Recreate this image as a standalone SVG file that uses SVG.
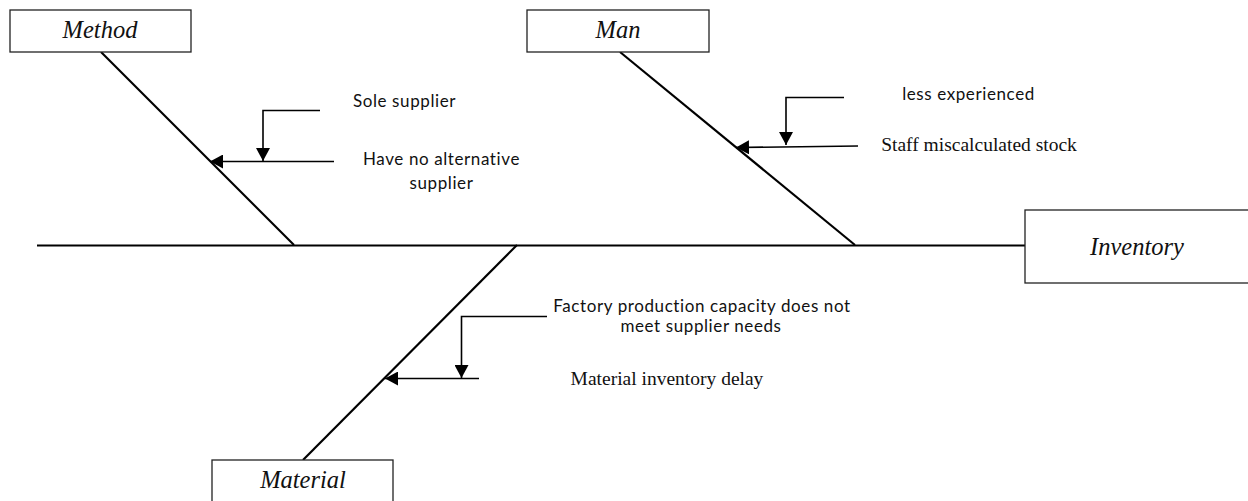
<svg xmlns="http://www.w3.org/2000/svg" width="1248" height="501" viewBox="0 0 1248 501">
  <style>
    .box { fill: #fff; stroke: #222; stroke-width: 1.3; }
    .cat { font-family: "Liberation Serif", "Times New Roman", serif; font-style: italic; font-size: 24.5px; fill: #111; text-anchor: middle; }
    .bone { stroke: #000; stroke-width: 2.2; fill: none; }
    .lead { stroke: #000; stroke-width: 1.6; fill: none; }
    .sans { font-family: Lato, "Open Sans", "Liberation Sans", sans-serif; font-size: 17px; letter-spacing: 0.6px; fill: #111; text-anchor: middle; }
    .serif { font-family: "Liberation Serif", "Times New Roman", serif; font-size: 19.5px; fill: #111; text-anchor: middle; }
  </style>
  <defs>
    <marker id="head" markerUnits="userSpaceOnUse" markerWidth="14" markerHeight="14" refX="13" refY="7" orient="auto">
      <path d="M0,0 L13,7 L0,14 Z" fill="#000"/>
    </marker>
  </defs>

  <rect width="1248" height="501" fill="#fff"/>

  <!-- spine and bones -->
  <g id="connectors">
    <line class="bone" x1="37" y1="245.5" x2="1025" y2="245.5"/>
    <line class="bone" x1="101" y1="52" x2="294" y2="245"/>
    <line class="bone" x1="620" y1="52" x2="855" y2="245"/>
    <line class="bone" x1="517" y1="245" x2="303" y2="460"/>

    <!-- Method causes -->
    <polyline class="lead" points="320,110.5 263,110.5 263,147" />
    <line class="lead" x1="263" y1="147" x2="263" y2="161" marker-end="url(#head)"/>
    <line class="lead" x1="334" y1="161.5" x2="210" y2="161.5" marker-end="url(#head)"/>

    <!-- Man causes -->
    <polyline class="lead" points="844,97.5 786,97.5 786,132" />
    <line class="lead" x1="786" y1="132" x2="786" y2="145" marker-end="url(#head)"/>
    <line class="lead" x1="858" y1="146" x2="736" y2="147.5" marker-end="url(#head)"/>

    <!-- Material causes -->
    <polyline class="lead" points="547,316.5 461.5,316.5 461.5,364" />
    <line class="lead" x1="461.5" y1="364" x2="461.5" y2="378" marker-end="url(#head)"/>
    <line class="lead" x1="479" y1="378.5" x2="385" y2="378.5" marker-end="url(#head)"/>
  </g>

  <g id="method">
    <rect class="box" x="10" y="10" width="181" height="42"/>
    <text class="cat" x="100" y="38">Method</text>
  </g>

  <g id="man">
    <rect class="box" x="527" y="10" width="182" height="42"/>
    <text class="cat" x="618" y="38">Man</text>
  </g>

  <g id="inventory">
    <rect class="box" x="1025" y="210" width="240" height="73"/>
    <text class="cat" x="1137" y="255">Inventory</text>
  </g>

  <g id="material">
    <rect class="box" x="212" y="460" width="181" height="50"/>
    <text class="cat" x="303" y="488">Material</text>
  </g>

  <g id="cause-sole-supplier">
    <text class="sans" x="404.5" y="107">Sole supplier</text>
  </g>
  <g id="cause-no-alternative">
    <text class="sans" x="441.5" y="165">Have no alternative</text>
    <text class="sans" x="441.5" y="189">supplier</text>
  </g>
  <g id="cause-less-experienced">
    <text class="sans" x="968.5" y="100">less experienced</text>
  </g>
  <g id="cause-staff">
    <text class="serif" x="979" y="151">Staff miscalculated stock</text>
  </g>
  <g id="cause-factory">
    <text class="sans" x="702" y="312">Factory production capacity does not</text>
    <text class="sans" x="701" y="332">meet supplier needs</text>
  </g>
  <g id="cause-delay">
    <text class="serif" x="667" y="385">Material inventory delay</text>
  </g>
</svg>
